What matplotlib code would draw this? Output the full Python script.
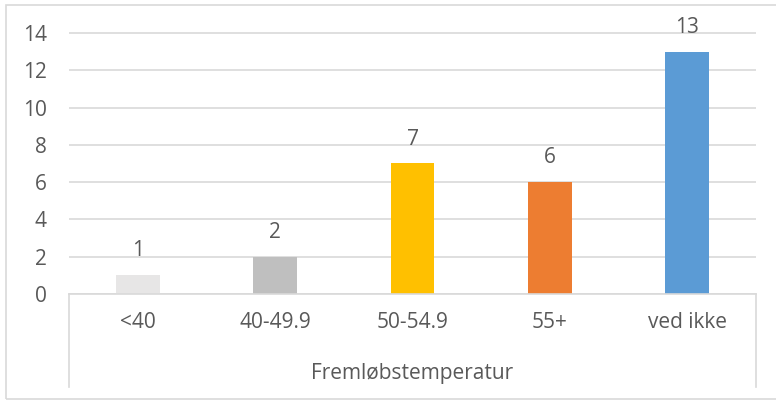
import matplotlib
matplotlib.use("Agg")
import matplotlib.pyplot as plt
from matplotlib.lines import Line2D
from matplotlib.patches import Rectangle

categories = ["<40", "40-49.9", "50-54.9", "55+", "ved ikke"]
values = [1, 2, 7, 6, 13]
colors = ["#E7E6E6", "#BFBFBF", "#FFC000", "#ED7D31", "#5B9BD5"]
yticks = [0, 2, 4, 6, 8, 10, 12, 14]
axis_title = "Fremløbstemperatur"

W, H = 776, 401
plt.rcParams['font.family'] = ['Open Sans', 'DejaVu Sans']
txt = "#595959"
grid = "#D9D9D9"
fs = 15

fig = plt.figure(figsize=(W / 100, H / 100), dpi=100)

def fx(px):
    return px / W

def fy(py):
    return 1 - py / H

left, right, bottom = 69, 756, 294
unit = (294 - 33) / 14.0
ymax = 16
top = bottom - ymax * unit
ax = fig.add_axes([fx(left), fy(bottom), fx(right - left), (bottom - top) / H])

x = list(range(len(categories)))
ax.bar(x, values, width=0.32, color=colors, zorder=3)
ax.set_xlim(-0.5, len(categories) - 0.5)
ax.set_ylim(0, ymax)
ax.set_yticks(yticks)
ax.set_yticklabels([str(t) for t in yticks], color=txt, fontsize=fs)
ax.tick_params(axis='y', length=0, pad=16)
ax.set_xticks([])
ax.yaxis.grid(True, color=grid, linewidth=1.2, zorder=0)
for s in ['top', 'right', 'left']:
    ax.spines[s].set_visible(False)
ax.spines['bottom'].set_color(grid)
ax.spines['bottom'].set_linewidth(1.2)
ax.spines['bottom'].set_zorder(4)

for xi, v in zip(x, values):
    ax.annotate(str(v), (xi, v), xytext=(0, 10), textcoords='offset points',
                ha='center', va='bottom', color=txt, fontsize=fs)

for xi, c in zip(x, categories):
    t = ax.text(xi, 0, c, transform=ax.get_xaxis_transform(), ha='center', va='center',
                color=txt, fontsize=fs)
    t.set_position((xi, -29 / (bottom - top)))

fig.text(fx((left + right) / 2), fy(373), axis_title, ha='center', va='center',
         color=txt, fontsize=fs)

for px in (left, right):
    fig.add_artist(Line2D([fx(px), fx(px)], [fy(bottom), fy(387)], color=grid, linewidth=1.2))

fig.add_artist(Rectangle((fx(5.5), fy(398.5)), fx(800), fy(4.5) - fy(398.5),
                         transform=fig.transFigure, fill=False, edgecolor=grid, linewidth=1.2))

fig.savefig("out.png", dpi=100)
